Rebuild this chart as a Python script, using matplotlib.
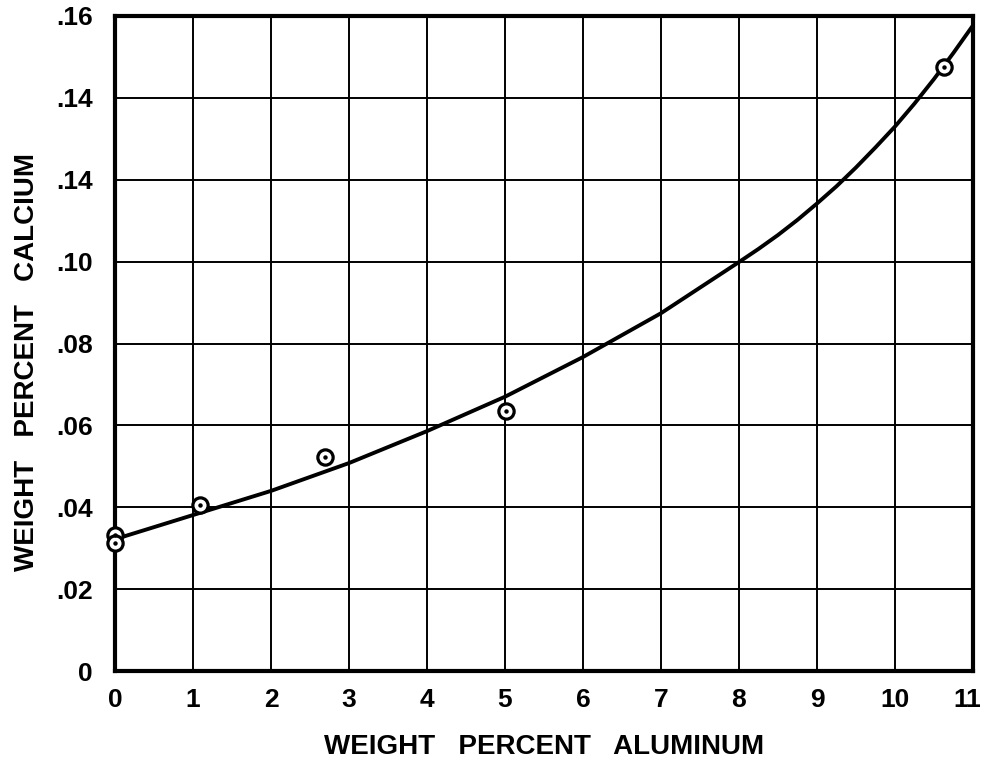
import numpy as np
import matplotlib
matplotlib.use("Agg")
import matplotlib.pyplot as plt
import matplotlib.transforms as mtransforms

# measured points (weight % Al, weight % Ca)
pts_al = [0.0, 0.0, 1.09, 2.69, 5.01, 10.63]
pts_ca = [0.0332, 0.0313, 0.0405, 0.0523, 0.0635, 0.1475]

# fitted curve
curve_al = [0.0, 1.0, 2.0, 3.0, 4.0, 5.0, 6.0, 7.0, 8.0, 8.25, 8.5, 8.75,
            9.0, 9.25, 9.5, 9.75, 10.0, 10.25, 10.5, 10.75, 11.0]
curve_ca = [0.0322, 0.0381, 0.0440, 0.0508, 0.0586, 0.0670, 0.0767, 0.0874,
            0.0999, 0.1031, 0.1065, 0.1102, 0.1142, 0.1184, 0.1230, 0.1279,
            0.1330, 0.1386, 0.1446, 0.1510, 0.1577]

xticks = list(range(12))
xticklabels = [str(v) for v in xticks]
yticks = [0, 0.02, 0.04, 0.06, 0.08, 0.10, 0.12, 0.14, 0.16]
yticklabels = ["0", ".02", ".04", ".06", ".08", ".10", ".14", ".14", ".16"]

plt.rcParams["font.family"] = ["Liberation Sans", "DejaVu Sans"]
plt.rcParams["font.weight"] = "bold"
fig = plt.figure(figsize=(9.84, 7.69), dpi=100)
ax = fig.add_axes([0.1169, 0.1274, 0.8719, 0.8518])

ax.plot(curve_al, curve_ca, color="black", lw=2.8, solid_joinstyle="round",
        zorder=3)
ax.plot(pts_al, pts_ca, linestyle="none", marker="o", ms=11, mfc="white",
        mec="black", mew=2.3, zorder=4, clip_on=False)
ax.plot(pts_al, pts_ca, linestyle="none", marker="o", ms=2.2, color="black",
        zorder=5, clip_on=False)

ax.set_xlim(0, 11)
ax.set_ylim(0, 0.16)
ax.set_xticks(xticks)
ax.set_xticklabels(xticklabels)
ax.set_yticks(yticks)
ax.set_yticklabels(yticklabels)
ax.tick_params(axis="both", length=0, labelsize=19)
ax.tick_params(axis="x", pad=12)
ax.tick_params(axis="y", pad=16)
ax.grid(True, color="black", lw=1.4)
ax.set_axisbelow(True)
for s in ax.spines.values():
    s.set_linewidth(3)
    s.set_color("black")

# keep the last x label inside the figure
last = ax.get_xticklabels()[-1]
last.set_horizontalalignment("right")
last.set_transform(last.get_transform()
                   + mtransforms.ScaledTranslation(8 / 100, 0,
                                                   fig.dpi_scale_trans))

ax.set_xlabel("WEIGHT   PERCENT   ALUMINUM", fontsize=20, fontweight="bold",
              labelpad=16)
ax.set_ylabel("WEIGHT   PERCENT   CALCIUM", fontsize=20, fontweight="bold")
ax.yaxis.set_label_coords(-0.088, 0.472)

fig.savefig("out.png", dpi=100, facecolor="white")
